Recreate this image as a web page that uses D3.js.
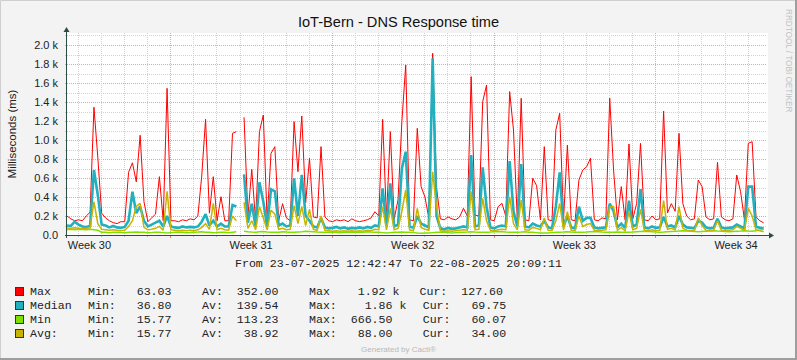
<!DOCTYPE html>
<html><head><meta charset="utf-8">
<script src="https://cdn.jsdelivr.net/npm/d3@7"></script>
<style>
body{margin:0;background:#f3f3f3}
svg{display:block}
.mono{font-family:"Liberation Mono","Courier New",monospace;font-size:11.6px;fill:#222;white-space:pre}
</style>
</head><body><div id="chart"></div>
<script>
// ---------------- DATA ----------------
const title = "IoT-Bern - DNS Response time";
const yTitle = "Milliseconds (ms)";
const rangeStart = [2025, 6, 23, 12, 42, 47];   // 23-07-2025 12:42:47
const rangeEnd   = [2025, 7, 22, 20, 9, 11];    // 22-08-2025 20:09:11
const stepHours = 4;
const yTicks = [0, 200, 400, 600, 800, 1000, 1200, 1400, 1600, 1800, 2000];
const yTickLabels = ["0.0", "0.2 k", "0.4 k", "0.6 k", "0.8 k", "1.0 k", "1.2 k", "1.4 k", "1.6 k", "1.8 k", "2.0 k"];
const weekLabels = ["Week 30", "Week 31", "Week 32", "Week 33", "Week 34"];
const seriesNames = ["Max", "Median", "Min", "Avg:"];
const seriesColors = ["#ff0000", "#22b0bf", "#7fe000", "#c8b400"];

const maxValues = [
 200,170,150,160,150,200,240,1345,820,230,
 180,150,130,120,140,140,660,760,560,1050,
 350,140,180,220,614,150,1544,150,150,140,
 160,150,170,160,200,620,1218,230,614,150,
 403,150,150,1070,1088,null,1239,200,691,150,
 1088,1263,150,860,930,150,330,180,150,1193,
 666,1253,340,807,190,180,930,190,150,140,
 160,150,160,140,170,150,140,150,160,180,
 245,200,1218,180,1088,170,368,1193,1789,160,
 150,1123,509,400,180,1913,500,170,160,190,
 170,160,190,281,200,1667,210,200,1404,1579,
 160,150,298,333,200,1509,1105,150,1439,160,
 150,597,520,160,930,160,150,1105,1281,160,
 947,160,150,579,684,719,807,160,150,180,
 170,1439,684,160,509,160,958,170,333,965,
 160,150,200,160,170,1305,231,330,250,1070,
 330,200,160,170,579,509,190,160,170,765,
 190,160,150,170,632,456,160,965,982,190,
 150,127.6];

const medianValues = [
 100,95,140,110,90,85,95,684,421,110,
 100,80,95,80,75,85,150,456,230,300,
 150,90,110,130,150,90,200,90,80,75,
 90,80,85,80,90,140,220,100,150,90,
 120,90,90,316,300,null,639,130,330,90,
 555,350,90,481,460,100,120,90,100,597,
 200,632,200,150,90,80,180,80,70,75,
 85,70,80,65,75,70,80,70,85,75,
 100,90,491,90,544,90,110,700,877,90,
 75,200,120,100,80,1860,200,70,60,75,
 65,70,80,90,80,842,90,100,712,300,
 80,70,90,100,90,779,250,90,747,90,
 80,120,100,90,150,80,70,300,660,90,
 200,80,70,298,150,180,180,80,70,75,
 80,330,250,80,120,75,361,90,110,484,
 80,70,90,75,80,190,90,100,80,200,
 110,80,75,70,150,130,80,70,75,170,
 80,70,75,80,110,90,75,509,509,90,
 75,69.75];

const minValues = [
 58,60,55,60,58,55,60,55,50,30,
 28,25,28,30,27,25,28,30,32,30,
 28,25,27,30,28,25,22,25,28,30,
 28,25,27,30,32,35,30,28,25,27,
 30,28,25,30,35,null,40,35,32,30,
 35,38,32,30,28,30,35,32,30,28,
 32,35,40,38,35,32,30,28,30,32,
 28,25,28,30,32,30,28,30,35,32,
 30,28,25,22,25,28,30,32,30,28,
 25,20,18,20,22,25,28,30,28,25,
 22,25,28,30,32,35,32,30,28,30,
 32,35,38,35,32,30,28,30,32,35,
 30,28,25,22,20,22,25,28,30,32,
 35,32,30,28,30,32,35,38,35,32,
 30,28,30,32,30,28,30,32,35,38,
 40,38,35,32,30,32,35,38,40,42,
 45,42,40,38,35,38,40,42,45,42,
 40,38,35,38,40,42,45,42,40,45,
 50,60.07];

const avgValues = [
 75,70,75,70,65,70,75,350,120,60,
 55,50,55,50,45,50,90,150,300,333,
 80,55,60,70,90,50,460,55,50,45,
 50,45,50,45,55,80,120,60,333,55,
 70,55,50,200,150,null,344,70,150,55,
 300,180,55,260,220,60,70,55,60,309,
 120,300,100,270,60,50,200,50,45,40,
 45,40,45,40,45,40,45,40,50,45,
 60,55,300,55,280,55,70,250,474,55,
 45,280,80,60,50,666,300,45,40,45,
 40,45,50,55,50,456,55,60,386,150,
 50,45,55,60,55,403,120,55,368,55,
 50,80,70,55,180,50,45,150,333,55,
 245,50,45,200,90,110,120,50,45,50,
 55,298,300,50,80,45,245,55,70,270,
 50,45,55,45,50,361,60,70,55,298,
 70,50,45,45,180,100,50,45,50,150,
 50,45,50,55,90,70,50,281,200,55,
 45,34];

const legendMin = ["63.03", "36.80", "15.77", "15.77"];
const legendAv  = ["352.00", "139.54", "113.23", "38.92"];
const legendMax = ["1.92 k", "1.86 k", "666.50", "88.00"];
const legendMaxLabel = ["Max", "Max:", "Max:", "Max:"];
const legendCur = ["127.60", "69.75", "60.07", "34.00"];

// ---------------- CHART ----------------
const W = 797, H = 360;
const L = 67, R = 767, T = 33, B = 235;
const start = new Date(Date.UTC(...rangeStart));
const end = new Date(Date.UTC(...rangeEnd));

const svg = d3.select("#chart").append("svg").attr("width", W).attr("height", H)
  .style("font-family", "'Liberation Sans', Arial, sans-serif");

// background + 3D border
svg.append("rect").attr("width", W).attr("height", H).attr("fill", "#f3f3f3");
svg.append("path").attr("d", `M0.5,${H-0.5} V0.5 H${W-0.5}`).attr("stroke", "#cfcfcf").attr("fill", "none").attr("stroke-width", 1);
svg.append("path").attr("d", `M${W-1},0 V${H-1} H0`).attr("stroke", "#9e9e9e").attr("fill", "none").attr("stroke-width", 2);

const x = d3.scaleUtc().domain([start, end]).range([L, R]);
const y = d3.scaleLinear().domain([0, 2000]).range([B, 45]);

// canvas
svg.append("rect").attr("x", L).attr("y", T).attr("width", R - L + 1).attr("height", B - T).attr("fill", "#ffffff");

const grid = svg.append("g").attr("shape-rendering", "crispEdges");
// horizontal minor / major grid
const yMinor = d3.range(100, 2101, 100);
yMinor.forEach(v => {
  const major = v % 200 === 0;
  const yy = Math.round(y(v)) + 0.5;
  grid.append("line").attr("x1", L).attr("x2", R).attr("y1", yy).attr("y2", yy)
    .attr("stroke", major ? "#e9a3a3" : "#d2d2d2").attr("stroke-dasharray", "1,1");
  grid.append("line").attr("x1", L - 2).attr("x2", L).attr("y1", yy).attr("y2", yy)
    .attr("stroke", major ? "#e9a3a3" : "#c8c8c8");
});
// vertical day grid
d3.utcDay.range(start, end).forEach(d => {
  const isMon = d.getUTCDay() === 1;
  const xx = Math.round(x(d)) + 0.5;
  grid.append("line").attr("x1", xx).attr("x2", xx).attr("y1", T).attr("y2", B)
    .attr("stroke", isMon ? "#e9a3a3" : "#d2d2d2").attr("stroke-dasharray", "1,1");
  grid.append("line").attr("x1", xx).attr("x2", xx).attr("y1", B).attr("y2", B + (isMon ? 3 : 2))
    .attr("stroke", isMon ? "#e08080" : "#b8b8b8");
});

// series
const times = maxValues.map((_, i) => new Date(start.getTime() + i * stepHours * 3600 * 1000));
const allSeries = [maxValues, medianValues, minValues, avgValues];
const widths = [1, 2.6, 1.5, 1.5];
const plot = svg.append("g");
plot.append("clipPath").attr("id", "clip").append("rect").attr("x", L).attr("y", T).attr("width", R - L).attr("height", B - T);
const lineGen = d3.line().defined(d => d[1] != null).x(d => x(d[0])).y(d => y(d[1]));
allSeries.forEach((vals, k) => {
  plot.append("path").attr("clip-path", "url(#clip)")
    .attr("d", lineGen(vals.map((v, i) => [times[i], v])))
    .attr("fill", "none").attr("stroke", seriesColors[k]).attr("stroke-width", widths[k])
    .attr("stroke-linejoin", "miter").attr("stroke-miterlimit", 2);
});

// axes
const axisColor = "#2c4d43";
svg.append("line").attr("x1", L - 2).attr("x2", R + 2).attr("y1", B + 0.5).attr("y2", B + 0.5).attr("stroke", axisColor).attr("shape-rendering", "crispEdges");
svg.append("line").attr("x1", L - 0.5).attr("x2", L - 0.5).attr("y1", B + 3).attr("y2", T - 2).attr("stroke", axisColor).attr("shape-rendering", "crispEdges");
svg.append("path").attr("d", `M${R + 2},${B - 2.5} L${R + 7},${B + 0.5} L${R + 2},${B + 3.5} Z`).attr("fill", axisColor);
svg.append("path").attr("d", `M${L - 3.5},${T - 1} L${L - 0.5},${T - 6} L${L + 2.5},${T - 1} Z`).attr("fill", axisColor);

// y tick labels
yTicks.forEach((v, i) => {
  svg.append("text").attr("x", 58).attr("y", y(v)).attr("dy", "0.36em").attr("text-anchor", "end")
    .attr("font-size", 11).attr("fill", "#222").text(yTickLabels[i]);
});
// week labels (centered mid-week, Thursday noon)
d3.utcMonday.range(new Date(Date.UTC(2025, 6, 21)), end).forEach((m, i) => {
  const mid = new Date(m.getTime() + 3.5 * 86400000);
  svg.append("text").attr("x", x(mid)).attr("y", 248.5).attr("text-anchor", "middle")
    .attr("font-size", 11).attr("fill", "#222").text(weekLabels[i]);
});

// titles
svg.append("text").attr("x", 398.5).attr("y", 27.3).attr("text-anchor", "middle")
  .attr("font-size", 14.6).attr("fill", "#111").text(title);
svg.append("text").attr("transform", "translate(16,134) rotate(-90)").attr("text-anchor", "middle")
  .attr("font-size", 11.5).attr("fill", "#222").text(yTitle);
svg.append("text").attr("transform", "translate(786,9) rotate(90)").attr("text-anchor", "start")
  .attr("font-size", 8.2).attr("fill", "#c2c2c2").text("RRDTOOL / TOBI OETIKER");

// period line
svg.append("text").attr("class", "mono").attr("x", 398.5).attr("y", 267).attr("text-anchor", "middle")
  .text("From 23-07-2025 12:42:47 To 22-08-2025 20:09:11");

// legend
const fmt8 = s => s.padStart(8, " ");
seriesNames.forEach((name, k) => {
  const by = 294.5 + k * 14;
  svg.append("rect").attr("x", 15.5).attr("y", by - 7).attr("width", 8).attr("height", 8)
    .attr("fill", seriesColors[k]).attr("stroke", "#333").attr("stroke-width", 1);
  svg.append("text").attr("class", "mono").attr("x", 30).attr("y", by).text(name);
  svg.append("text").attr("class", "mono").attr("x", 88).attr("y", by).text("Min:" + fmt8(legendMin[k]));
  svg.append("text").attr("class", "mono").attr("x", 202).attr("y", by).text("Av:" + fmt8(legendAv[k]));
  const mv = legendMax[k].endsWith(" k") ? fmt8(legendMax[k].slice(0, -2)) + " k" : fmt8(legendMax[k]);
  svg.append("text").attr("class", "mono").attr("x", 309).attr("y", by).text(legendMaxLabel[k] + mv);
  svg.append("text").attr("class", "mono").attr("x", k === 0 ? 419.5 : 422.7).attr("y", by).text("Cur:" + fmt8(legendCur[k]));
});

svg.append("text").attr("x", 398.5).attr("y", 352).attr("text-anchor", "middle")
  .attr("font-size", 8).attr("fill", "#b8b8b8").text("Generated by Cacti®");
</script>
</body></html>
